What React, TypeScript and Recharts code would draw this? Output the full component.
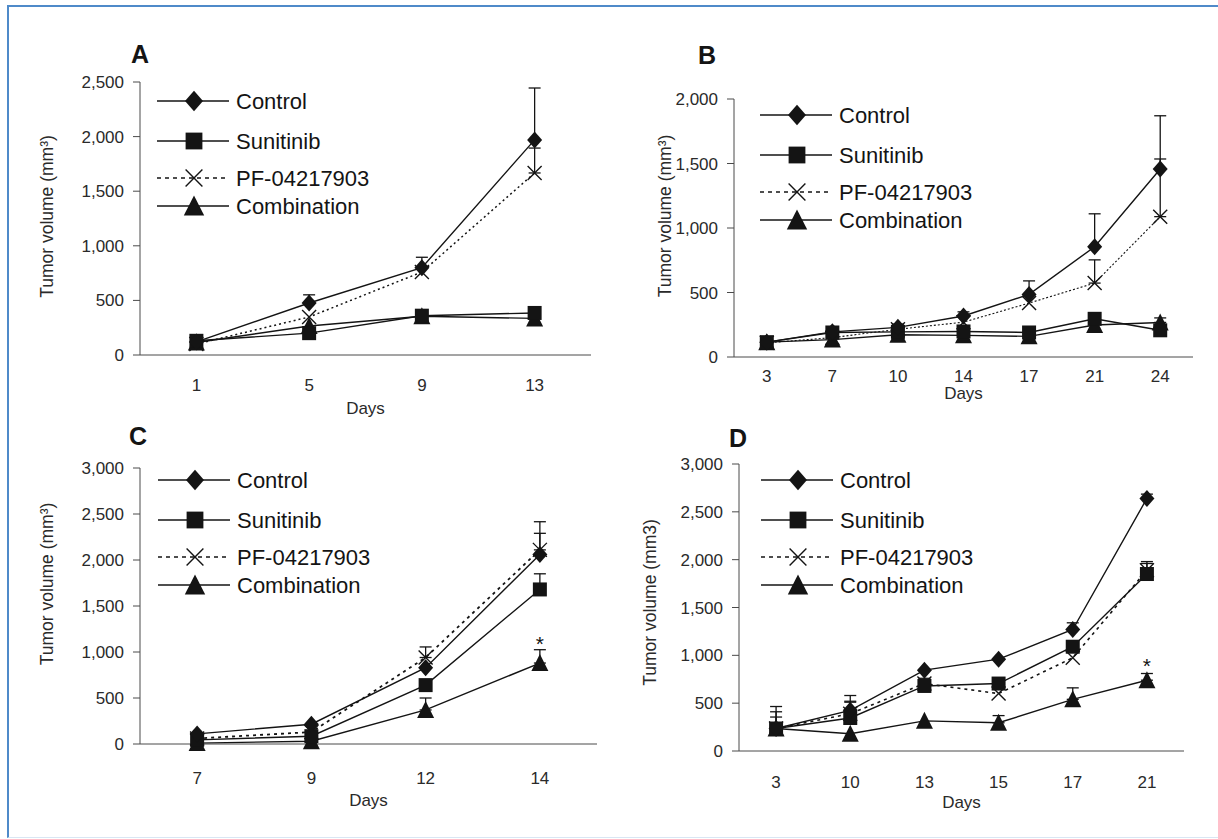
import React from "react";
import { LineChart, Line, XAxis, YAxis, ErrorBar, Legend, ReferenceDot } from "recharts";

const FONT = '"Liberation Sans", Arial, Helvetica, sans-serif';
const INK = "#141414";
const AXIS = "#4a4a4a";
const TEXT = "#2a2a2a";

// Panel A
const daysA = ["1", "5", "9", "13"];
const controlA = [120, 476, 800, 1970];
const controlErrA = [0, 75, 95, 475];
const sunitinibA = [130, 200, 360, 385];
const sunitinibErrA = [0, 0, 0, 0];
const pfA = [100, 348, 760, 1667];
const pfErrA = [0, 0, 0, 228];
const comboA = [115, 265, 355, 335];
const comboErrA = [0, 0, 0, 0];
const ticksA = [0, 500, 1000, 1500, 2000, 2500];

// Panel B
const daysB = ["3", "7", "10", "14", "17", "21", "24"];
const controlB = [115, 195, 230, 318, 485, 855, 1457];
const controlErrB = [0, 15, 25, 32, 105, 255, 413];
const sunitinibB = [115, 190, 195, 198, 190, 296, 207];
const sunitinibErrB = [0, 0, 20, 0, 0, 45, 0];
const pfB = [110, 150, 215, 270, 418, 573, 1088];
const pfErrB = [0, 0, 0, 0, 0, 180, 447];
const comboB = [115, 135, 172, 168, 160, 248, 268];
const comboErrB = [0, 0, 0, 0, 0, 0, 35];
const ticksB = [0, 500, 1000, 1500, 2000];

// Panel C
const daysC = ["7", "9", "12", "14"];
const controlC = [110, 215, 830, 2060];
const controlErrC = [0, 0, 0, 230];
const sunitinibC = [45, 85, 640, 1680];
const sunitinibErrC = [0, 0, 0, 170];
const pfC = [60, 130, 940, 2110];
const pfErrC = [0, 0, 115, 306];
const comboC = [10, 30, 370, 880];
const comboErrC = [0, 0, 130, 145];
const starC = { i: 3, v: 1090 };
const ticksC = [0, 500, 1000, 1500, 2000, 2500, 3000];

// Panel D
const daysD = ["3", "10", "13", "15", "17", "21"];
const controlD = [235, 425, 845, 960, 1270, 2640];
const controlErrD = [230, 155, 0, 0, 70, 45];
const sunitinibD = [235, 345, 680, 705, 1090, 1850];
const sunitinibErrD = [175, 175, 80, 0, 0, 130];
const pfD = [235, 390, 705, 600, 975, 1890];
const pfErrD = [120, 120, 0, 0, 0, 70];
const comboD = [235, 180, 315, 295, 540, 740];
const comboErrD = [0, 0, 0, 75, 120, 70];
const starD = { i: 5, v: 890 };
const ticksD = [0, 500, 1000, 1500, 2000, 2500, 3000];

type Marker = "diamond" | "square" | "cross" | "triangle";

const SERIES: { key: string; name: string; marker: Marker; dashed: boolean }[] = [
  { key: "control", name: "Control", marker: "diamond", dashed: false },
  { key: "sunitinib", name: "Sunitinib", marker: "square", dashed: false },
  { key: "pf", name: "PF-04217903", marker: "cross", dashed: true },
  { key: "combo", name: "Combination", marker: "triangle", dashed: false },
];

function Mark({ kind, cx, cy, big }: { kind: Marker; cx: number; cy: number; big?: boolean }) {
  const k = big ? 1.2 : 1;
  if (kind === "diamond") {
    const w = 7.5 * k, h = 8.5 * k;
    return <path d={`M${cx},${cy - h}L${cx + w},${cy}L${cx},${cy + h}L${cx - w},${cy}Z`} fill={INK} />;
  }
  if (kind === "square") {
    const s = 7 * k;
    return <rect x={cx - s} y={cy - s} width={2 * s} height={2 * s} fill={INK} />;
  }
  if (kind === "triangle") {
    const w = 8.5 * k, h = 16 * k;
    return <path d={`M${cx},${cy - h / 2 - 1}L${cx + w},${cy + h / 2}L${cx - w},${cy + h / 2}Z`} fill={INK} />;
  }
  const s = 7 * k;
  return (
    <path d={`M${cx - s},${cy - s}L${cx + s},${cy + s}M${cx - s},${cy + s}L${cx + s},${cy - s}`} stroke={INK} strokeWidth={1.4} fill="none" />
  );
}

const dotFor = (kind: Marker) => (p: any) => {
  const { cx, cy, index } = p;
  if (cx == null || cy == null) return <g key={`m-${kind}-${index}`} />;
  return (
    <g key={`m-${kind}-${index}`}>
      <Mark kind={kind} cx={cx} cy={cy} />
    </g>
  );
};

const LEG_ROWS = [10, 50, 87, 115];

function LegendBox() {
  return (
    <svg width={260} height={135} style={{ overflow: "visible", display: "block" }}>
      {SERIES.map((s, k) => (
        <g key={s.key}>
          <line
            x1={0}
            x2={72}
            y1={LEG_ROWS[k]}
            y2={LEG_ROWS[k]}
            stroke={INK}
            strokeWidth={1.5}
            strokeDasharray={s.dashed ? "4 4" : undefined}
          />
          <Mark kind={s.marker} cx={37} cy={LEG_ROWS[k]} big />
          <text x={79} y={LEG_ROWS[k]} dy="0.36em" fontSize={22} fill={INK} fontFamily={FONT}>
            {s.name}
          </text>
        </g>
      ))}
    </svg>
  );
}

type Layout = {
  left: number;
  top: number;
  height: number;
  mTop: number;
  mRight: number;
  mBottom: number;
  yW: number;
  labelX: number;
  labelDy: number;
  xLabH: number;
  xTickMargin: number;
  legLeft: number;
  legTop: number;
  pfDash: string;
  pfWidth: number;
};

type PanelProps = {
  days: string[];
  values: Record<string, number[]>;
  errors: Record<string, number[]>;
  yMax: number;
  yTicks: number[];
  yLabel: string;
  star?: { i: number; v: number };
  lay: Layout;
};

const fmt = (v: number) => v.toLocaleString("en-US");
const errPair = (e: number) => (e > 0 ? [0, e] : null);

function Panel({ days, values, errors, yMax, yTicks, yLabel, star, lay }: PanelProps) {
  const n = days.length;
  const data = days.map((d, i) => {
    const row: any = { i, day: d };
    SERIES.forEach((s) => {
      row[s.key] = values[s.key][i];
      row[s.key + "Err"] = errPair(errors[s.key][i]);
    });
    return row;
  });
  const edges = Array.from({ length: n + 1 }, (_, k) => k - 0.5);
  const centers = days.map((_, i) => i);
  const order = ["pf", "combo", "sunitinib", "control"];
  const textStyle = { fill: TEXT, fontSize: 17, fontFamily: FONT };

  return (
    <div style={{ position: "absolute", left: lay.left, top: lay.top }}>
      <LineChart
        width={609}
        height={lay.height}
        data={data}
        margin={{ top: lay.mTop, right: lay.mRight, left: 0, bottom: lay.mBottom }}
      >
        <XAxis
          xAxisId={0}
          type="number"
          dataKey="i"
          domain={[-0.5, n - 0.5]}
          ticks={edges}
          interval={0}
          tick={false}
          tickSize={8}
          height={8}
          stroke={AXIS}
        />
        <XAxis
          xAxisId="lab"
          type="number"
          dataKey="i"
          domain={[-0.5, n - 0.5]}
          ticks={centers}
          interval={0}
          tickLine={false}
          axisLine={false}
          tickSize={0}
          tickMargin={lay.xTickMargin}
          height={lay.xLabH}
          tickFormatter={(v: number) => days[v]}
          tick={textStyle}
          label={{ value: "Days", position: "insideBottom", offset: 0, style: textStyle }}
        />
        <YAxis
          type="number"
          domain={[0, yMax]}
          ticks={yTicks}
          interval={0}
          width={lay.yW}
          tickSize={7}
          tickMargin={9}
          stroke={AXIS}
          tick={textStyle}
          tickFormatter={fmt}
          label={{
            value: yLabel,
            angle: -90,
            position: "insideLeft",
            offset: lay.labelX,
            dy: lay.labelDy,
            style: { ...textStyle, fontSize: 17.5, textAnchor: "middle" },
          }}
        />
        <Legend
          layout="vertical"
          align="center"
          verticalAlign="middle"
          wrapperStyle={{ left: lay.legLeft, top: lay.legTop, width: 260, height: 135 }}
          content={() => <LegendBox />}
        />
        {order.map((key) => {
          const s = SERIES.find((x) => x.key === key)!;
          return (
            <Line
              key={key}
              type="linear"
              dataKey={key}
              name={s.name}
              stroke={INK}
              strokeWidth={s.dashed ? lay.pfWidth : 1.4}
              strokeDasharray={s.dashed ? lay.pfDash : undefined}
              dot={dotFor(s.marker)}
              activeDot={false}
              isAnimationActive={false}
            >
              <ErrorBar dataKey={key + "Err"} direction="y" width={6} stroke={INK} strokeWidth={1.3} />
            </Line>
          );
        })}
        {star ? (
          <ReferenceDot
            x={star.i}
            y={star.v}
            r={0}
            fill="none"
            stroke="none"
            label={{ value: "*", position: "center", fontSize: 21, fill: INK, fontFamily: FONT }}
          />
        ) : null}
      </LineChart>
    </div>
  );
}

export default function App() {
  return (
    <div
      style={{
        position: "absolute",
        left: 0,
        top: 0,
        width: 1218,
        height: 839,
        background: "#fff",
        overflow: "hidden",
        fontFamily: FONT,
      }}
    >
      <div
        style={{
          position: "absolute",
          left: 7,
          top: 5,
          width: 1240,
          height: 833,
          boxSizing: "border-box",
          borderLeft: "2px solid #4f8ac9",
          borderTop: "2px solid #4f8ac9",
          borderBottom: "1px solid #d9e6f3",
        }}
      />
      <Panel
        days={daysA}
        values={{ control: controlA, sunitinib: sunitinibA, pf: pfA, combo: comboA }}
        errors={{ control: controlErrA, sunitinib: sunitinibErrA, pf: pfErrA, combo: comboErrA }}
        yMax={2500}
        yTicks={ticksA}
        yLabel="Tumor volume (mm³)"
        lay={{ left: 0, top: 0, height: 420, mTop: 82, mRight: 18, mBottom: 6, yW: 140, labelX: 47, labelDy: -2, xLabH: 51, xTickMargin: 16, legLeft: 157, legTop: 91, pfDash: "2 3", pfWidth: 1.5 }}
      />
      <Panel
        days={daysB}
        values={{ control: controlB, sunitinib: sunitinibB, pf: pfB, combo: comboB }}
        errors={{ control: controlErrB, sunitinib: sunitinibErrB, pf: pfErrB, combo: comboErrB }}
        yMax={2000}
        yTicks={ticksB}
        yLabel="Tumor volume (mm³)"
        lay={{ left: 609, top: 0, height: 420, mTop: 99, mRight: 25, mBottom: 21, yW: 125, labelX: 56, labelDy: -12, xLabH: 34, xTickMargin: 5, legLeft: 151, legTop: 105, pfDash: "2 2", pfWidth: 1.1 }}
      />
      <Panel
        days={daysC}
        values={{ control: controlC, sunitinib: sunitinibC, pf: pfC, combo: comboC }}
        errors={{ control: controlErrC, sunitinib: sunitinibErrC, pf: pfErrC, combo: comboErrC }}
        yMax={3000}
        yTicks={ticksC}
        yLabel="Tumor volume (mm³)"
        star={starC}
        lay={{ left: 0, top: 420, height: 419, mTop: 48, mRight: 12, mBottom: 33, yW: 140, labelX: 47, labelDy: -22, xLabH: 54, xTickMargin: 20, legLeft: 158, legTop: 50, pfDash: "3 4", pfWidth: 1.8 }}
      />
      <Panel
        days={daysD}
        values={{ control: controlD, sunitinib: sunitinibD, pf: pfD, combo: comboD }}
        errors={{ control: controlErrD, sunitinib: sunitinibErrD, pf: pfErrD, combo: comboErrD }}
        yMax={3000}
        yTicks={ticksD}
        yLabel="Tumor volume (mm3)"
        star={starD}
        lay={{ left: 609, top: 420, height: 419, mTop: 44, mRight: 34, mBottom: 31, yW: 130, labelX: 41, labelDy: -5, xLabH: 49, xTickMargin: 17, legLeft: 152, legTop: 50, pfDash: "3 4", pfWidth: 1.6 }}
      />
      <svg width={1218} height={839} style={{ position: "absolute", left: 0, top: 0, pointerEvents: "none" }}>
        <g fontFamily={FONT} fontWeight="bold" fontSize={25} fill={INK}>
          <text x={131} y={63}>A</text>
          <text x={698} y={64}>B</text>
          <text x={129} y={445}>C</text>
          <text x={729} y={447}>D</text>
        </g>
      </svg>
    </div>
  );
}
